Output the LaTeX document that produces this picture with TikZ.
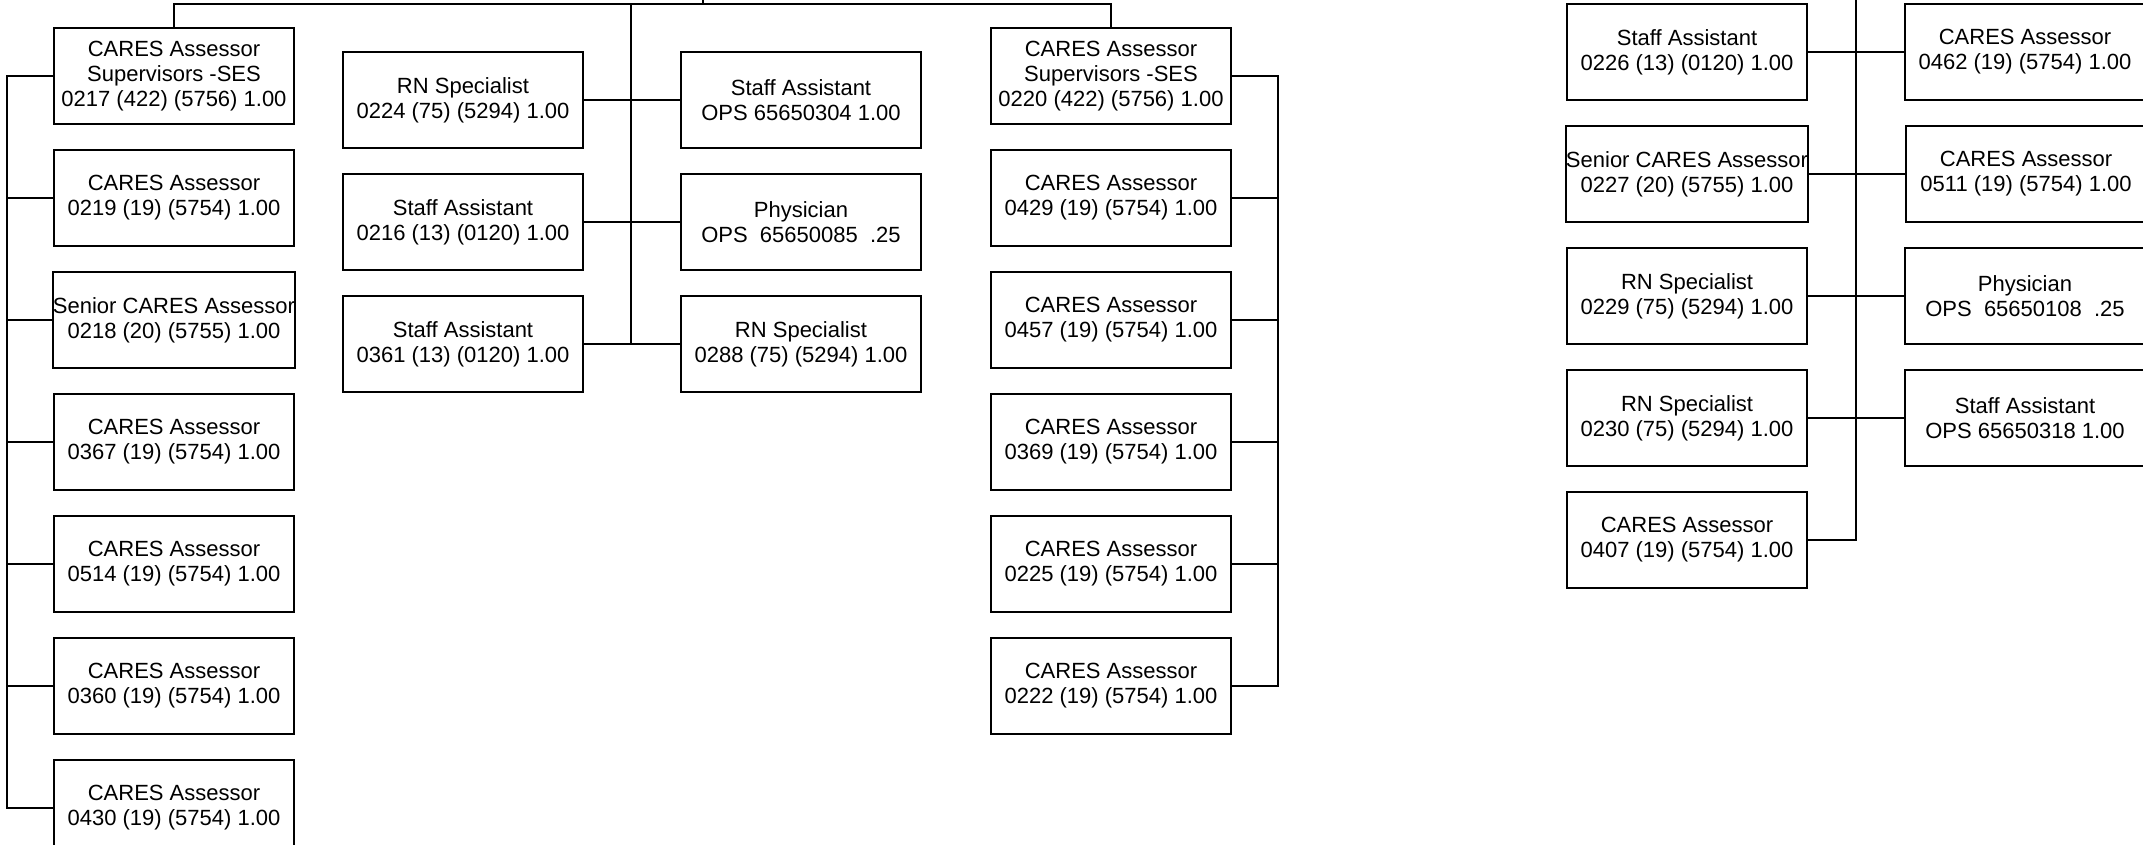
\documentclass[tikz,border=0pt]{standalone}
\usepackage{fontspec}
\setmainfont{Liberation Sans}
\usepackage{tikz}
\usetikzlibrary{positioning, calc}
\tikzset{
  jobbox/.style={draw=black, line width=2pt, fill=white, text=black, align=center,
    minimum width=240pt, minimum height=96pt, inner sep=0pt,
    font=\fontsize{22}{25}\selectfont},
  link/.style={line width=2pt, color=black},
}

\begin{document}
\begin{tikzpicture}[x=1pt, y=-1pt, node distance=24pt and 96pt]
  \useasboundingbox (0,0) rectangle (2143,844);
  \node[jobbox] (a1) at (174,76) {CARES Assessor\\Supervisors -SES\\0217 (422) (5756) 1.00};
  \node[jobbox, below=of a1] (a2) {CARES Assessor\\0219 (19) (5754) 1.00};
  \node[jobbox, below=of a2] (a3) {Senior CARES Assessor\\0218 (20) (5755) 1.00};
  \node[jobbox, below=of a3] (a4) {CARES Assessor\\0367 (19) (5754) 1.00};
  \node[jobbox, below=of a4] (a5) {CARES Assessor\\0514 (19) (5754) 1.00};
  \node[jobbox, below=of a5] (a6) {CARES Assessor\\0360 (19) (5754) 1.00};
  \node[jobbox, below=of a6] (a7) {CARES Assessor\\0430 (19) (5754) 1.00};

  \node[jobbox] (m1) at (463,100) {RN Specialist\\0224 (75) (5294) 1.00};
  \node[jobbox, below=of m1] (m2) {Staff Assistant\\0216 (13) (0120) 1.00};
  \node[jobbox, below=of m2] (m3) {Staff Assistant\\0361 (13) (0120) 1.00};
  \node[jobbox, right=of m1] (n1) {Staff Assistant\\OPS 65650304 1.00};
  \node[jobbox, right=of m2] (n2) {Physician\\OPS~~65650085~~.25};
  \node[jobbox, right=of m3] (n3) {RN Specialist\\0288 (75) (5294) 1.00};

  \node[jobbox] (b1) at (1111,76) {CARES Assessor\\Supervisors -SES\\0220 (422) (5756) 1.00};
  \node[jobbox, below=of b1] (b2) {CARES Assessor\\0429 (19) (5754) 1.00};
  \node[jobbox, below=of b2] (b3) {CARES Assessor\\0457 (19) (5754) 1.00};
  \node[jobbox, below=of b3] (b4) {CARES Assessor\\0369 (19) (5754) 1.00};
  \node[jobbox, below=of b4] (b5) {CARES Assessor\\0225 (19) (5754) 1.00};
  \node[jobbox, below=of b5] (b6) {CARES Assessor\\0222 (19) (5754) 1.00};

  \node[jobbox] (f1) at (1687,52) {Staff Assistant\\0226 (13) (0120) 1.00};
  \node[jobbox, below=of f1] (f2) {Senior CARES Assessor\\0227 (20) (5755) 1.00};
  \node[jobbox, below=of f2] (f3) {RN Specialist\\0229 (75) (5294) 1.00};
  \node[jobbox, below=of f3] (f4) {RN Specialist\\0230 (75) (5294) 1.00};
  \node[jobbox, below=of f4] (f5) {CARES Assessor\\0407 (19) (5754) 1.00};
  \node[jobbox, right=of f1] (g1) {CARES Assessor\\0462 (19) (5754) 1.00};
  \node[jobbox, right=of f2] (g2) {CARES Assessor\\0511 (19) (5754) 1.00};
  \node[jobbox, right=of f3] (g3) {Physician\\OPS~~65650108~~.25};
  \node[jobbox, right=of f4] (g4) {Staff Assistant\\OPS 65650318 1.00};

  \coordinate (root) at (703,0);
  \coordinate (top) at (703,3.5);
  \coordinate (busa) at (7,0);
  \coordinate (busm) at (631,0);
  \coordinate (busb) at (1278,0);
  \coordinate (busf) at (1856,0);

  \draw[link] (a1.north) |- (top) -| (b1.north);
  \draw[link] (root) -- (top);
  \draw[link] (busm |- top) -- (busm |- m3.east);
  \draw[link] (a1.west) -- (a1.west -| busa) -- (a7.west -| busa) -- (a7.west);
  \foreach \k in {2,...,6} \draw[link] (a\k.west) -- (a\k.west -| busa);
  \foreach \k in {1,2,3} \draw[link] (m\k.east) -- (n\k.west);
  \draw[link] (b1.east) -- (b1.east -| busb) -- (b6.east -| busb) -- (b6.east);
  \foreach \k in {2,...,5} \draw[link] (b\k.east) -- (b\k.east -| busb);
  \draw[link] (busf) -- (busf |- f5.east) -- (f5.east);
  \foreach \k in {1,...,4} \draw[link] (f\k.east) -- (g\k.west);
\end{tikzpicture}
\end{document}
